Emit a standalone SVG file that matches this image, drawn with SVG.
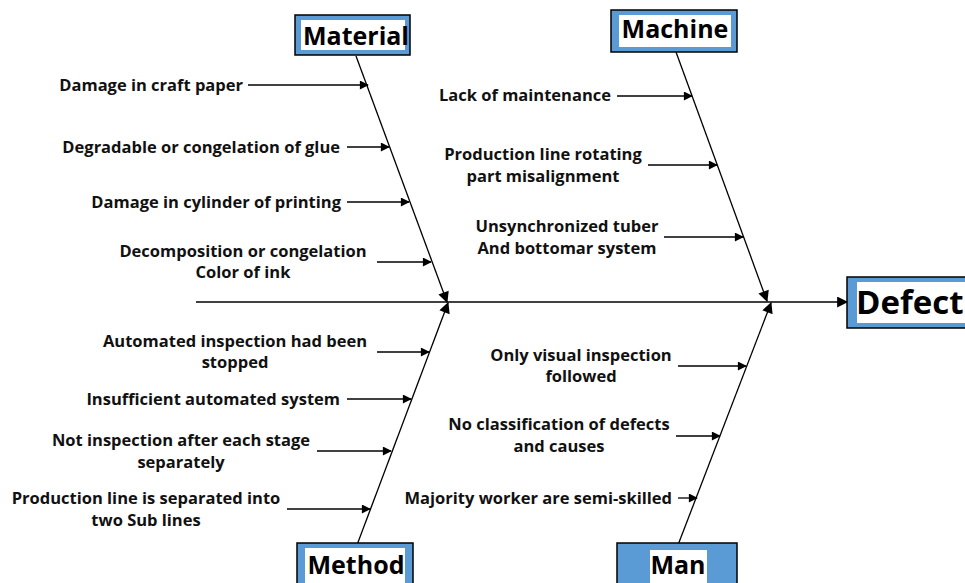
<svg xmlns="http://www.w3.org/2000/svg" width="965" height="583" viewBox="0 0 965 583">
<defs>
<marker id="ah" viewBox="0 0 10 10" refX="9" refY="5" markerWidth="10" markerHeight="9" markerUnits="userSpaceOnUse" orient="auto"><path d="M0,0 L10,5 L0,10 z" fill="#000"/></marker>
<marker id="ahb" viewBox="0 0 10 10" refX="9" refY="5" markerWidth="12" markerHeight="11" markerUnits="userSpaceOnUse" orient="auto"><path d="M0,0 L10,5 L0,10 z" fill="#000"/></marker>
<style>
.lbl{font-family:"Open Sans","Liberation Sans",sans-serif;font-weight:700;font-size:16.5px;fill:#111}
.ttl{font-family:"Open Sans","Liberation Sans",sans-serif;font-weight:700;font-size:25px;fill:#000}
.box{fill:#5B9BD5;stroke:#000;stroke-width:1.5}
.in{fill:#fff}
.ln{stroke:#000;stroke-width:1.3;fill:none}
.a{marker-end:url(#ah)}
</style>
</defs>
<rect width="965" height="583" fill="#fff"/>
<g id="connectors">
<line class="ln" x1="196" y1="302" x2="847" y2="302" marker-end="url(#ahb)"/>
<line class="ln" x1="356" y1="56" x2="447" y2="302" marker-end="url(#ahb)"/>
<line class="ln" x1="676" y1="52" x2="767" y2="301" marker-end="url(#ahb)"/>
<line class="ln" x1="357" y1="545" x2="448" y2="303" marker-end="url(#ahb)"/>
<line class="ln" x1="678" y1="545" x2="771" y2="303" marker-end="url(#ahb)"/>
<line class="ln a" x1="248" y1="85" x2="368" y2="85"/>
<line class="ln a" x1="347" y1="147" x2="389" y2="147"/>
<line class="ln a" x1="347" y1="202" x2="409" y2="202"/>
<line class="ln a" x1="377" y1="262" x2="431" y2="262"/>
<line class="ln a" x1="617" y1="96" x2="692" y2="96"/>
<line class="ln a" x1="648" y1="165" x2="717" y2="165"/>
<line class="ln a" x1="664" y1="237" x2="743" y2="237"/>
<line class="ln a" x1="377" y1="352" x2="429" y2="352"/>
<line class="ln a" x1="347" y1="399" x2="411" y2="399"/>
<line class="ln a" x1="317" y1="451" x2="391" y2="451"/>
<line class="ln a" x1="287" y1="509" x2="370" y2="509"/>
<line class="ln a" x1="678" y1="366" x2="746" y2="366"/>
<line class="ln a" x1="676" y1="436" x2="720" y2="436"/>
<line class="ln a" x1="678" y1="498" x2="697" y2="498"/>
</g>
<g id="material"><rect class="box" x="295" y="15" width="115" height="40"/><rect class="in" x="301" y="20" width="104" height="30"/><text class="ttl" x="356" y="45" text-anchor="middle">Material</text></g>
<g id="machine"><rect class="box" x="611" y="10" width="126" height="42"/><rect class="in" x="619" y="15" width="112" height="32"/><text class="ttl" x="675" y="38" text-anchor="middle">Machine</text></g>
<g id="defect"><rect class="box" x="847" y="277" width="125" height="51"/><rect class="in" x="857" y="282" width="115" height="41"/><text class="ttl" x="856" y="314" style="font-size:33px">Defect</text></g>
<g id="method"><rect class="box" x="297" y="543" width="116" height="50"/><rect class="in" x="305" y="548" width="100" height="40"/><text class="ttl" x="356" y="574" text-anchor="middle">Method</text></g>
<g id="man"><rect class="box" x="617" y="543" width="120" height="50"/><rect class="in" x="650" y="550" width="57" height="40"/><text class="ttl" x="678" y="574" text-anchor="middle">Man</text></g>
<g id="material-causes">
<text class="lbl" x="243" y="91" text-anchor="end">Damage in craft paper</text>
<text class="lbl" x="340" y="153" text-anchor="end">Degradable or congelation of glue</text>
<text class="lbl" x="341" y="208" text-anchor="end">Damage in cylinder of printing</text>
<text class="lbl" x="243" y="257" text-anchor="middle">Decomposition or congelation</text>
<text class="lbl" x="243" y="278" text-anchor="middle">Color of ink</text>
</g>
<g id="machine-causes">
<text class="lbl" x="611" y="101" text-anchor="end">Lack of maintenance</text>
<text class="lbl" x="543" y="160" text-anchor="middle">Production line rotating</text>
<text class="lbl" x="543" y="182" text-anchor="middle">part misalignment</text>
<text class="lbl" x="567" y="232" text-anchor="middle">Unsynchronized tuber</text>
<text class="lbl" x="567" y="254" text-anchor="middle">And bottomar system</text>
</g>
<g id="method-causes">
<text class="lbl" x="235" y="347" text-anchor="middle">Automated inspection had been</text>
<text class="lbl" x="235" y="368" text-anchor="middle">stopped</text>
<text class="lbl" x="340" y="405" text-anchor="end">Insufficient automated system</text>
<text class="lbl" x="181" y="446" text-anchor="middle">Not inspection after each stage</text>
<text class="lbl" x="181" y="468" text-anchor="middle">separately</text>
<text class="lbl" x="146" y="504" text-anchor="middle">Production line is separated into</text>
<text class="lbl" x="146" y="526" text-anchor="middle">two Sub lines</text>
</g>
<g id="man-causes">
<text class="lbl" x="581" y="361" text-anchor="middle">Only visual inspection</text>
<text class="lbl" x="581" y="382" text-anchor="middle">followed</text>
<text class="lbl" x="559" y="430" text-anchor="middle">No classification of defects</text>
<text class="lbl" x="559" y="452" text-anchor="middle">and causes</text>
<text class="lbl" x="672" y="504" text-anchor="end">Majority worker are semi-skilled</text>
</g>
</svg>
